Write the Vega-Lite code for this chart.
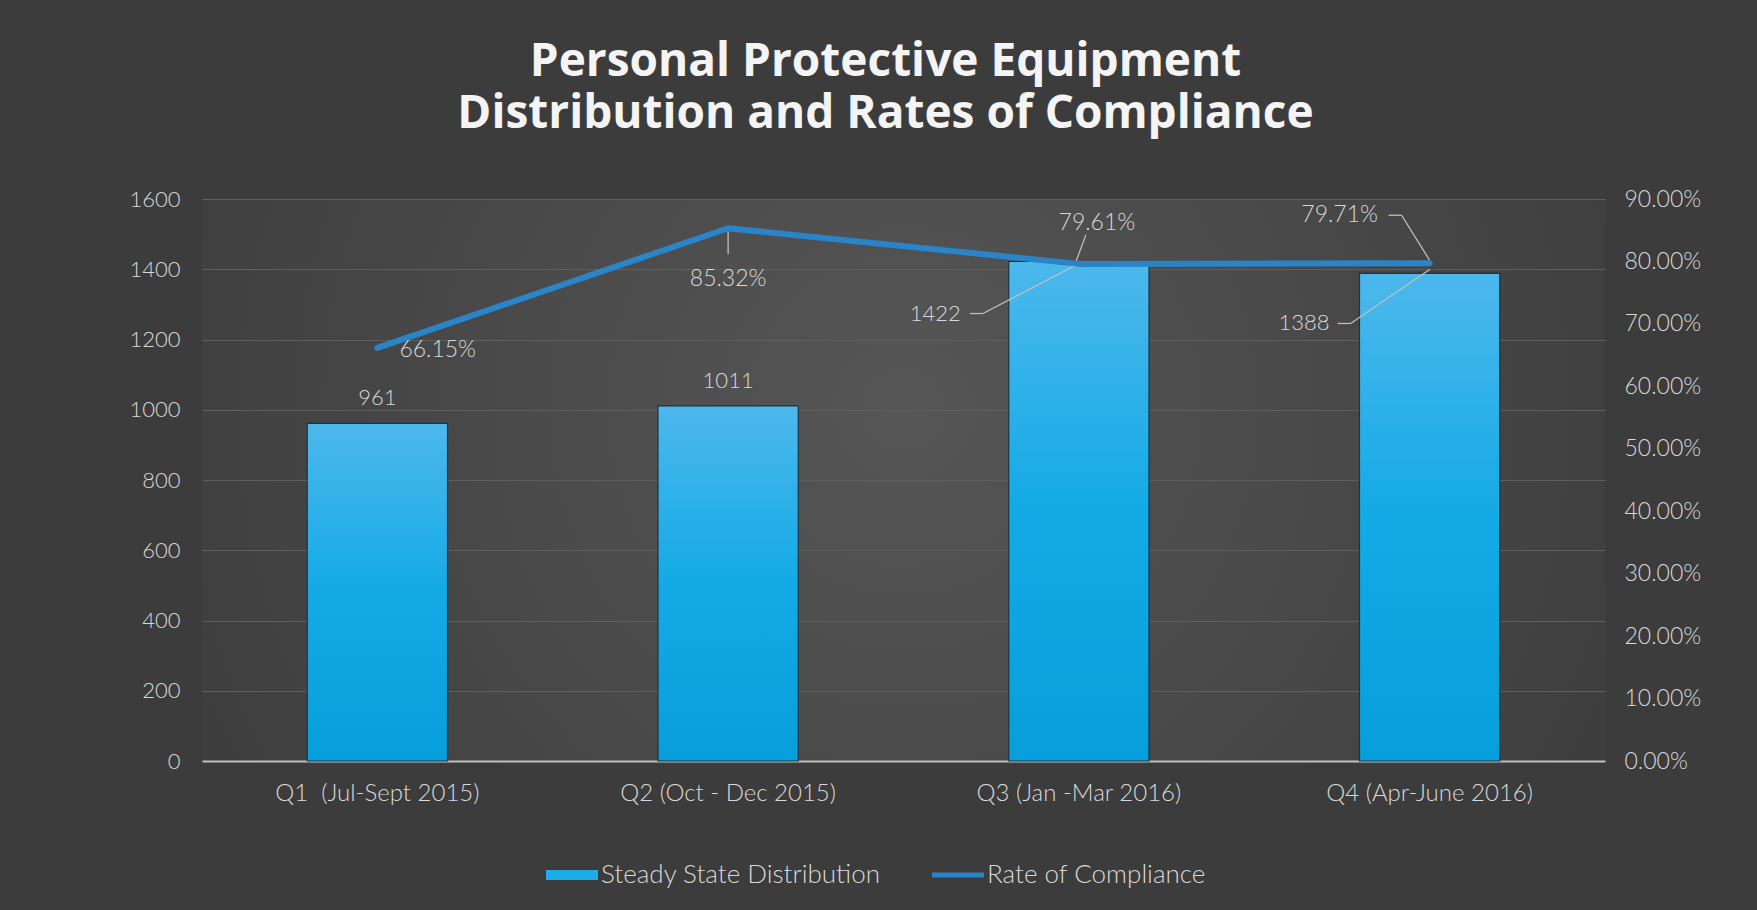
{
  "$schema": "https://vega.github.io/schema/vega-lite/v6.json",
  "width": 1403,
  "height": 562,
  "autosize": {"type": "none"},
  "padding": {"left": 202, "top": 199, "right": 152, "bottom": 149},
  "background": "#3c3c3c",
  "view": {"stroke": null, "fill": {"gradient": "radial", "x1": 0.5, "y1": 0.45, "r1": 0, "x2": 0.5, "y2": 0.45, "r2": 0.6, "stops": [{"offset": 0, "color": "#565656"}, {"offset": 1, "color": "#3c3c3c"}]}},
  "title": {
    "text": ["Personal Protective Equipment", "Distribution and Rates of Compliance"],
    "font": "Open Sans",
    "fontSize": 46,
    "fontWeight": "bold",
    "color": "#f4f4f4",
    "lineHeight": 52,
    "anchor": "middle",
    "dx": -18,
    "offset": 50
  },
  "config": {
    "font": "Lato",
    "axis": {"labelFont": "Lato", "labelFontSize": 22, "labelFontWeight": 300, "labelColor": "#d9d9d9", "titleColor": "#d9d9d9", "labelLimit": 0},
    "legend": {"labelFont": "Lato", "labelFontSize": 26, "labelFontWeight": 300, "labelColor": "#d9d9d9", "labelLimit": 0}
  },
  "data": {
    "values": [
      {"quarter": "Q1 \u00a0(Jul-Sept 2015)", "count": 961, "rate": 0.6615},
      {"quarter": "Q2 (Oct - Dec 2015)", "count": 1011, "rate": 0.8532},
      {"quarter": "Q3 (Jan -Mar 2016)", "count": 1422, "rate": 0.7961},
      {"quarter": "Q4 (Apr-June 2016)", "count": 1388, "rate": 0.7971}
    ]
  },
  "encoding": {
    "x": {
      "field": "quarter", "type": "nominal", "sort": null,
      "scale": {"paddingInner": 0.6, "paddingOuter": 0.3},
      "axis": {"title": null, "labelAngle": 0, "ticks": false, "domainColor": "#bfbfbf", "domainWidth": 2, "labelPadding": 20, "labelFontSize": 24, "grid": false}
    }
  },
  "layer": [
    {
      "encoding": {
        "y": {"field": "count", "type": "quantitative", "scale": {"domain": [0, 1600], "nice": false},
          "axis": {"title": null, "orient": "left", "format": "d", "values": [0, 200, 400, 600, 800, 1000, 1200, 1400, 1600], "domain": false, "ticks": false, "labelPadding": 22, "grid": true, "gridColor": "#5e5e5e", "gridWidth": 1.2}}
      },
      "layer": [
        {
          "mark": {"type": "bar"},
          "encoding": {
            "color": {
              "datum": "Steady State Distribution", "type": "nominal",
              "scale": {"domain": ["Steady State Distribution", "Rate of Compliance"], "range": ["#1aaee8", "#2a84c8"]},
              "legend": {
                "title": null, "orient": "none", "legendX": 344, "legendY": 650, "direction": "horizontal",
                "symbolSize": 2704, "labelOffset": 3, "columnPadding": 51, "symbolStrokeWidth": 0,
                "encode": {"symbols": {"update": {
                  "shape": {"signal": "datum.value === 'Rate of Compliance' ? 'M-1,-0.1H1V0.1H-1Z' : 'M-1,-0.19H1V0.19H-1Z'"},
                  "fill": {"signal": "datum.value === 'Rate of Compliance' ? '#2a84c8' : {gradient: 'linear', x1: 0, y1: 0, x2: 0, y2: 1, stops: [{offset: 0, color: '#4cb8ec'}, {offset: 1, color: '#079fdb'}]}"},
                  "stroke": {"value": "transparent"},
                  "opacity": {"value": 1}
                }}}
              }
            }
          }
        },
        {
          "mark": {"type": "bar", "stroke": "#22303a", "strokeWidth": 1.2, "color": {"gradient": "linear", "x1": 0, "y1": 0, "x2": 0, "y2": 1, "stops": [{"offset": 0, "color": "#4cb8ec"}, {"offset": 0.5, "color": "#13aae6"}, {"offset": 1, "color": "#079fdb"}]}}
        },
        {
          "transform": [{"filter": {"field": "quarter", "oneOf": ["Q1 \u00a0(Jul-Sept 2015)", "Q2 (Oct - Dec 2015)"]}}],
          "mark": {"type": "text", "dy": -25, "baseline": "middle", "fontSize": 22, "fontWeight": 300, "color": "#d9d9d9"},
          "encoding": {"text": {"field": "count", "type": "quantitative", "format": "d"}}
        },
        {
          "transform": [{"filter": {"field": "quarter", "equal": "Q3 (Jan -Mar 2016)"}}],
          "mark": {"type": "text", "dx": -118, "dy": 52, "align": "right", "baseline": "middle", "fontSize": 22, "fontWeight": 300, "color": "#d9d9d9"},
          "encoding": {"text": {"field": "count", "type": "quantitative", "format": "d"}}
        },
        {
          "transform": [{"filter": {"field": "quarter", "equal": "Q4 (Apr-June 2016)"}}],
          "mark": {"type": "text", "dx": -100, "dy": 50, "align": "right", "baseline": "middle", "fontSize": 22, "fontWeight": 300, "color": "#d9d9d9"},
          "encoding": {"text": {"field": "count", "type": "quantitative", "format": "d"}}
        },
        {
          "transform": [{"filter": {"field": "quarter", "equal": "Q3 (Jan -Mar 2016)"}}],
          "mark": {"type": "rule", "color": "#bfbfbf", "strokeWidth": 1.3, "xOffset": -109, "x2Offset": -96, "yOffset": 52, "y2Offset": 52},
          "encoding": {"x2": {"field": "quarter"}, "y2": {"field": "count"}}
        },
        {
          "transform": [{"filter": {"field": "quarter", "equal": "Q3 (Jan -Mar 2016)"}}],
          "mark": {"type": "rule", "color": "#bfbfbf", "strokeWidth": 1.3, "xOffset": -96, "x2Offset": 0, "yOffset": 52, "y2Offset": 2},
          "encoding": {"x2": {"field": "quarter"}, "y2": {"field": "count"}}
        },
        {
          "transform": [{"filter": {"field": "quarter", "equal": "Q4 (Apr-June 2016)"}}],
          "mark": {"type": "rule", "color": "#bfbfbf", "strokeWidth": 1.3, "xOffset": -92, "x2Offset": -79, "yOffset": 50, "y2Offset": 50},
          "encoding": {"x2": {"field": "quarter"}, "y2": {"field": "count"}}
        },
        {
          "transform": [{"filter": {"field": "quarter", "equal": "Q4 (Apr-June 2016)"}}],
          "mark": {"type": "rule", "color": "#bfbfbf", "strokeWidth": 1.3, "xOffset": -79, "x2Offset": 0, "yOffset": 50, "y2Offset": -4},
          "encoding": {"x2": {"field": "quarter"}, "y2": {"field": "count"}}
        }
      ]
    },
    {
      "encoding": {
        "y": {"field": "rate", "type": "quantitative", "scale": {"domain": [0, 0.9], "nice": false},
          "axis": {"title": null, "orient": "right", "format": ".2%", "labelFontSize": 23, "values": [0, 0.1, 0.2, 0.3, 0.4, 0.5, 0.6, 0.7, 0.8, 0.9], "domain": false, "ticks": false, "labelPadding": 19, "grid": false}}
      },
      "layer": [
        {
          "transform": [{"filter": {"field": "quarter", "equal": "Q2 (Oct - Dec 2015)"}}],
          "mark": {"type": "rule", "color": "#bfbfbf", "strokeWidth": 1.3, "yOffset": 3, "y2Offset": 26},
          "encoding": {"y2": {"field": "rate"}}
        },
        {
          "transform": [{"filter": {"field": "quarter", "equal": "Q3 (Jan -Mar 2016)"}}],
          "mark": {"type": "rule", "color": "#bfbfbf", "strokeWidth": 1.3, "xOffset": 7, "x2Offset": -3, "yOffset": -29, "y2Offset": -2},
          "encoding": {"x2": {"field": "quarter"}, "y2": {"field": "rate"}}
        },
        {
          "transform": [{"filter": {"field": "quarter", "equal": "Q4 (Apr-June 2016)"}}],
          "mark": {"type": "rule", "color": "#bfbfbf", "strokeWidth": 1.3, "xOffset": -41, "x2Offset": -28, "yOffset": -48, "y2Offset": -48},
          "encoding": {"x2": {"field": "quarter"}, "y2": {"field": "rate"}}
        },
        {
          "transform": [{"filter": {"field": "quarter", "equal": "Q4 (Apr-June 2016)"}}],
          "mark": {"type": "rule", "color": "#bfbfbf", "strokeWidth": 1.3, "xOffset": -28, "x2Offset": 0, "yOffset": -48, "y2Offset": -3},
          "encoding": {"x2": {"field": "quarter"}, "y2": {"field": "rate"}}
        },
        {
          "mark": {"type": "line", "strokeWidth": 6, "strokeCap": "round", "strokeJoin": "round"},
          "encoding": {"color": {"datum": "Rate of Compliance", "type": "nominal"}}
        },
        {
          "transform": [{"filter": {"field": "quarter", "equal": "Q1 \u00a0(Jul-Sept 2015)"}}],
          "mark": {"type": "text", "dx": 22, "dy": 2, "align": "left", "baseline": "middle", "fontSize": 23, "fontWeight": 300, "color": "#d9d9d9"},
          "encoding": {"text": {"field": "rate", "type": "quantitative", "format": ".2%"}}
        },
        {
          "transform": [{"filter": {"field": "quarter", "equal": "Q2 (Oct - Dec 2015)"}}],
          "mark": {"type": "text", "dy": 51, "align": "center", "baseline": "middle", "fontSize": 23, "fontWeight": 300, "color": "#d9d9d9"},
          "encoding": {"text": {"field": "rate", "type": "quantitative", "format": ".2%"}}
        },
        {
          "transform": [{"filter": {"field": "quarter", "equal": "Q3 (Jan -Mar 2016)"}}],
          "mark": {"type": "text", "dx": 18, "dy": -41, "align": "center", "baseline": "middle", "fontSize": 23, "fontWeight": 300, "color": "#d9d9d9"},
          "encoding": {"text": {"field": "rate", "type": "quantitative", "format": ".2%"}}
        },
        {
          "transform": [{"filter": {"field": "quarter", "equal": "Q4 (Apr-June 2016)"}}],
          "mark": {"type": "text", "dx": -90, "dy": -48, "align": "center", "baseline": "middle", "fontSize": 23, "fontWeight": 300, "color": "#d9d9d9"},
          "encoding": {"text": {"field": "rate", "type": "quantitative", "format": ".2%"}}
        }
      ]
    }
  ],
  "resolve": {"scale": {"y": "independent"}}
}
